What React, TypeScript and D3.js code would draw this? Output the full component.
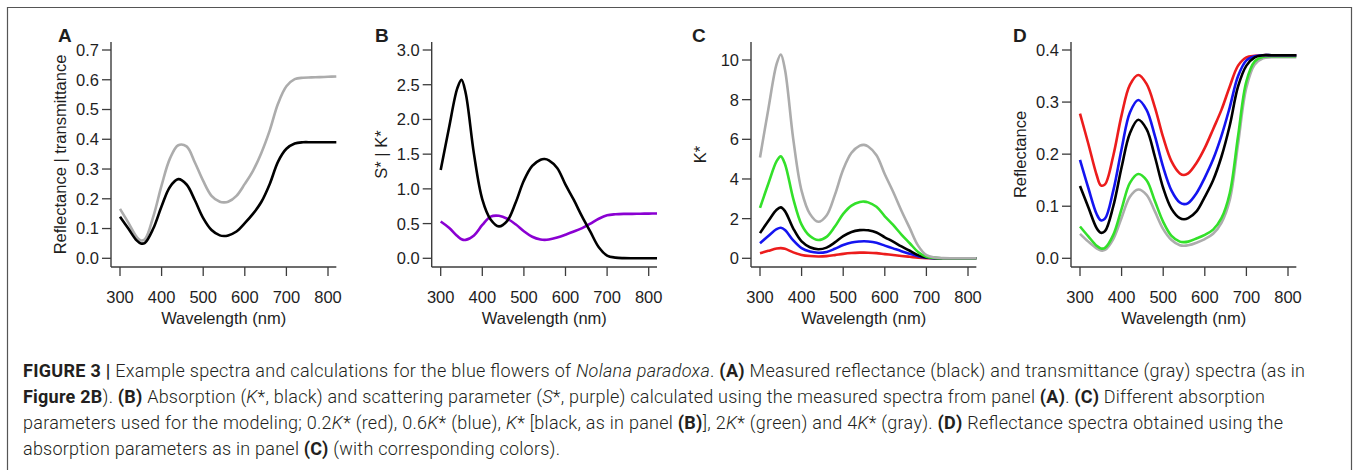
import React from 'react';
import * as d3 from 'd3';

// wavelength grid (nm) shared by every curve
const wavelengths = [300, 320, 340, 350, 360, 380, 400, 420, 440, 460, 480, 500, 520, 540, 550, 560, 580, 600, 620, 640, 660, 680, 700, 720, 740, 760, 780, 800, 820];
const xTicks = [300, 400, 500, 600, 700, 800];

// A: measured spectra
const reflectance = [0.14, 0.1, 0.06, 0.05, 0.052, 0.1, 0.175, 0.24, 0.266, 0.248, 0.195, 0.135, 0.095, 0.077, 0.075, 0.077, 0.09, 0.118, 0.15, 0.19, 0.25, 0.325, 0.368, 0.386, 0.39, 0.39, 0.39, 0.39, 0.39];
const transmittance = [0.166, 0.12, 0.072, 0.06, 0.064, 0.14, 0.245, 0.335, 0.38, 0.376, 0.322, 0.26, 0.21, 0.19, 0.188, 0.19, 0.21, 0.25, 0.295, 0.355, 0.43, 0.52, 0.578, 0.602, 0.607, 0.608, 0.609, 0.61, 0.611];
const yTicksA = [0, 0.1, 0.2, 0.3, 0.4, 0.5, 0.6, 0.7];

// B: absorption K* and scattering S*
const kStar = [1.27, 1.88, 2.45, 2.57, 2.38, 1.5, 0.85, 0.56, 0.46, 0.54, 0.8, 1.12, 1.33, 1.42, 1.43, 1.41, 1.3, 1.06, 0.84, 0.6, 0.38, 0.16, 0.04, 0.01, 0.002, 0, 0, 0, 0];
const sStar = [0.53, 0.44, 0.32, 0.275, 0.265, 0.33, 0.48, 0.6, 0.612, 0.57, 0.49, 0.39, 0.31, 0.27, 0.265, 0.27, 0.3, 0.34, 0.385, 0.435, 0.5, 0.57, 0.62, 0.635, 0.64, 0.64, 0.642, 0.644, 0.645];
const yTicksB = [0, 0.5, 1, 1.5, 2, 2.5, 3];

// C: absorption parameters used for modelling
const kRed = [0.254, 0.376, 0.49, 0.514, 0.476, 0.3, 0.17, 0.112, 0.092, 0.108, 0.16, 0.224, 0.266, 0.284, 0.286, 0.282, 0.26, 0.212, 0.168, 0.12, 0.076, 0.032, 0.008, 0.002, 0, 0, 0, 0, 0];
const kBlue = [0.76, 1.13, 1.47, 1.54, 1.43, 0.9, 0.51, 0.34, 0.28, 0.32, 0.48, 0.67, 0.8, 0.85, 0.86, 0.85, 0.78, 0.64, 0.5, 0.36, 0.23, 0.1, 0.024, 0.006, 0.001, 0, 0, 0, 0];
const kBlack = [1.27, 1.88, 2.45, 2.57, 2.38, 1.5, 0.85, 0.56, 0.46, 0.54, 0.8, 1.12, 1.33, 1.42, 1.43, 1.41, 1.3, 1.06, 0.84, 0.6, 0.38, 0.16, 0.04, 0.01, 0.002, 0, 0, 0, 0];
const kGreen = [2.54, 3.76, 4.9, 5.14, 4.76, 3.0, 1.7, 1.12, 0.92, 1.08, 1.6, 2.24, 2.66, 2.84, 2.86, 2.82, 2.6, 2.12, 1.68, 1.2, 0.76, 0.32, 0.08, 0.02, 0.004, 0, 0, 0, 0];
const kGray = [5.08, 7.52, 9.8, 10.28, 9.52, 6.0, 3.4, 2.24, 1.84, 2.16, 3.2, 4.48, 5.32, 5.68, 5.72, 5.64, 5.2, 4.24, 3.36, 2.4, 1.52, 0.64, 0.16, 0.04, 0.008, 0, 0, 0, 0];
const yTicksC = [0, 2, 4, 6, 8, 10];

// D: modelled reflectance
const rRed = [0.278, 0.22, 0.16, 0.14, 0.142, 0.197, 0.275, 0.333, 0.352, 0.335, 0.29, 0.232, 0.186, 0.163, 0.16, 0.163, 0.183, 0.212, 0.248, 0.285, 0.33, 0.37, 0.386, 0.389, 0.39, 0.39, 0.39, 0.39, 0.39];
const rBlue = [0.189, 0.135, 0.085, 0.073, 0.076, 0.13, 0.21, 0.28, 0.304, 0.285, 0.235, 0.175, 0.13, 0.107, 0.104, 0.106, 0.125, 0.155, 0.19, 0.235, 0.29, 0.35, 0.38, 0.388, 0.39, 0.39, 0.39, 0.39, 0.39];
const rBlack = [0.139, 0.098, 0.058, 0.049, 0.052, 0.1, 0.175, 0.24, 0.266, 0.248, 0.195, 0.135, 0.095, 0.077, 0.075, 0.077, 0.09, 0.118, 0.15, 0.195, 0.255, 0.33, 0.37, 0.386, 0.39, 0.39, 0.39, 0.39, 0.39];
const rGreen = [0.061, 0.042, 0.024, 0.019, 0.02, 0.045, 0.095, 0.145, 0.162, 0.15, 0.11, 0.07, 0.043, 0.032, 0.031, 0.032, 0.038, 0.045, 0.055, 0.077, 0.125, 0.235, 0.34, 0.378, 0.387, 0.388, 0.388, 0.388, 0.388];
const rGray = [0.047, 0.032, 0.019, 0.015, 0.016, 0.037, 0.078, 0.118, 0.132, 0.122, 0.09, 0.056, 0.035, 0.025, 0.024, 0.025, 0.03, 0.037, 0.047, 0.068, 0.112, 0.22, 0.328, 0.372, 0.384, 0.386, 0.386, 0.386, 0.386];
const yTicksD = [0, 0.1, 0.2, 0.3, 0.4];

const BLACK = '#000';
const GRAY = '#acacac';
const PURPLE = '#8a00d2';
const RED = '#ec1c1c';
const BLUE = '#1414f0';
const GREEN = '#33e02a';

const AXIS = '#3c3c3c';
const FONT = '"Liberation Sans", Arial, Helvetica, sans-serif';

const panels = [
  {
    letter: 'A', letterX: 58, axisX: 111, yMax: 0.7, yTopPx: 50, ticks: yTicksA, fmt: d3.format('.1f'),
    title: 'Reflectance | transmittance',
    series: [{ v: transmittance, c: GRAY }, { v: reflectance, c: BLACK }],
  },
  {
    letter: 'B', letterX: 375, axisX: 431.7, yMax: 3, yTopPx: 50, ticks: yTicksB, fmt: d3.format('.1f'),
    title: 'S* | K*',
    series: [{ v: sStar, c: PURPLE }, { v: kStar, c: BLACK }],
  },
  {
    letter: 'C', letterX: 692, axisX: 751, yMax: 10, yTopPx: 60, ticks: yTicksC, fmt: d3.format('d'),
    title: 'K*',
    series: [{ v: kRed, c: RED }, { v: kBlue, c: BLUE }, { v: kBlack, c: BLACK }, { v: kGreen, c: GREEN }, { v: kGray, c: GRAY }],
  },
  {
    letter: 'D', letterX: 1013, axisX: 1071, yMax: 0.4, yTopPx: 50, ticks: yTicksD, fmt: d3.format('.1f'),
    title: 'Reflectance',
    series: [{ v: rGray, c: GRAY }, { v: rGreen, c: GREEN }, { v: rRed, c: RED }, { v: rBlue, c: BLUE }, { v: rBlack, c: BLACK }],
  },
];

const caption: [string, string][][] = [
  [['FIGURE 3 |', 'b'], [' Example spectra and calculations for the blue flowers of ', ''], ['Nolana paradoxa', 'i'], ['. ', ''], ['(A)', 'b'], [' Measured reflectance (black) and transmittance (gray) spectra (as in', '']],
  [['Figure 2B', 'b'], ['). ', ''], ['(B)', 'b'], [' Absorption (', ''], ['K', 'i'], ['*, black) and scattering parameter (', ''], ['S', 'i'], ['*, purple) calculated using the measured spectra from panel ', ''], ['(A)', 'b'], ['. ', ''], ['(C)', 'b'], [' Different absorption', '']],
  [['parameters used for the modeling; 0.2', ''], ['K', 'i'], ['* (red), 0.6', ''], ['K', 'i'], ['* (blue), ', ''], ['K', 'i'], ['* [black, as in panel ', ''], ['(B)', 'b'], ['], 2', ''], ['K', 'i'], ['* (green) and 4', ''], ['K', 'i'], ['* (gray). ', ''], ['(D)', 'b'], [' Reflectance spectra obtained using the', '']],
  [['absorption parameters as in panel ', ''], ['(C)', 'b'], [' (with corresponding colors).', '']],
];
const captionWidths = [1282, 1242, 1260, 537];

const Y0 = 258.3;   // pixel of value 0
const AXIS_TOP = 42;
const AXIS_Y = 267;

function Panel({ p }: { p: typeof panels[number] }) {
  const x = d3.scaleLinear().domain([300, 800]).range([p.axisX + 9, p.axisX + 217]);
  const y = d3.scaleLinear().domain([0, p.yMax]).range([Y0, p.yTopPx]);
  const line = d3.line<number>()
    .x((_, i) => x(wavelengths[i]))
    .y(d => y(d))
    .curve(d3.curveCatmullRom.alpha(0.5));
  const midY = (AXIS_TOP + AXIS_Y) / 2;
  return (
    <g fontFamily={FONT} fill="#1e1e1e">
      <text x={p.letterX} y={41.7} fontSize={19} fontWeight="bold">{p.letter}</text>
      {/* axes */}
      <line x1={p.axisX} x2={p.axisX} y1={AXIS_TOP} y2={AXIS_Y} stroke={AXIS} strokeWidth={1.4} />
      <line x1={p.axisX} x2={x(820)} y1={AXIS_Y} y2={AXIS_Y} stroke={AXIS} strokeWidth={1.4} />
      {p.ticks.map(t => (
        <g key={'y' + t}>
          <line x1={p.axisX - 9} x2={p.axisX} y1={y(t)} y2={y(t)} stroke={AXIS} strokeWidth={1.3} />
          <text x={p.axisX - 12} y={y(t)} dy="0.36em" fontSize={16.5} textAnchor="end">{p.fmt(t)}</text>
        </g>
      ))}
      {xTicks.map(t => (
        <g key={'x' + t}>
          <line x1={x(t)} x2={x(t)} y1={AXIS_Y} y2={AXIS_Y + 9} stroke={AXIS} strokeWidth={1.3} />
          <text x={x(t)} y={303} fontSize={16.5} textAnchor="middle">{t}</text>
        </g>
      ))}
      <text x={(p.axisX + x(820)) / 2} y={324} fontSize={16.5} textAnchor="middle">Wavelength (nm)</text>
      <text transform={`translate(${p.axisX - 45},${midY}) rotate(-90)`} fontSize={16.5} textAnchor="middle">{p.title}</text>
      {p.series.map((s, i) => (
        <path key={i} d={line(s.v) || ''} fill="none" stroke={s.c} strokeWidth={2.6} strokeLinejoin="round" />
      ))}
    </g>
  );
}

export default function App() {
  return (
    <svg width={1357} height={473} style={{ position: 'absolute', left: 0, top: 0, background: '#fff' }}>
      <rect x={0} y={0} width={1357} height={473} fill="#fff" />
      <path d="M7.5,470 V7.5 H1351.5 V470" fill="none" stroke="#555" strokeWidth={1.2} />
      {panels.map(p => <Panel key={p.letter} p={p} />)}
      <g fontFamily="Roboto, 'Liberation Sans', sans-serif" fontSize={18} fill="#231f20" style={{ whiteSpace: 'pre' }}>
        {caption.map((ln, i) => (
          <text key={i} x={23} y={377 + i * 26} fontWeight={300}
            textLength={captionWidths[i]} lengthAdjust="spacing">
            {ln.map(([t, s], j) => (
              <tspan key={j} fontWeight={s === 'b' ? 700 : 300} fontStyle={s === 'i' ? 'italic' : 'normal'}>{t}</tspan>
            ))}
          </text>
        ))}
      </g>
    </svg>
  );
}
